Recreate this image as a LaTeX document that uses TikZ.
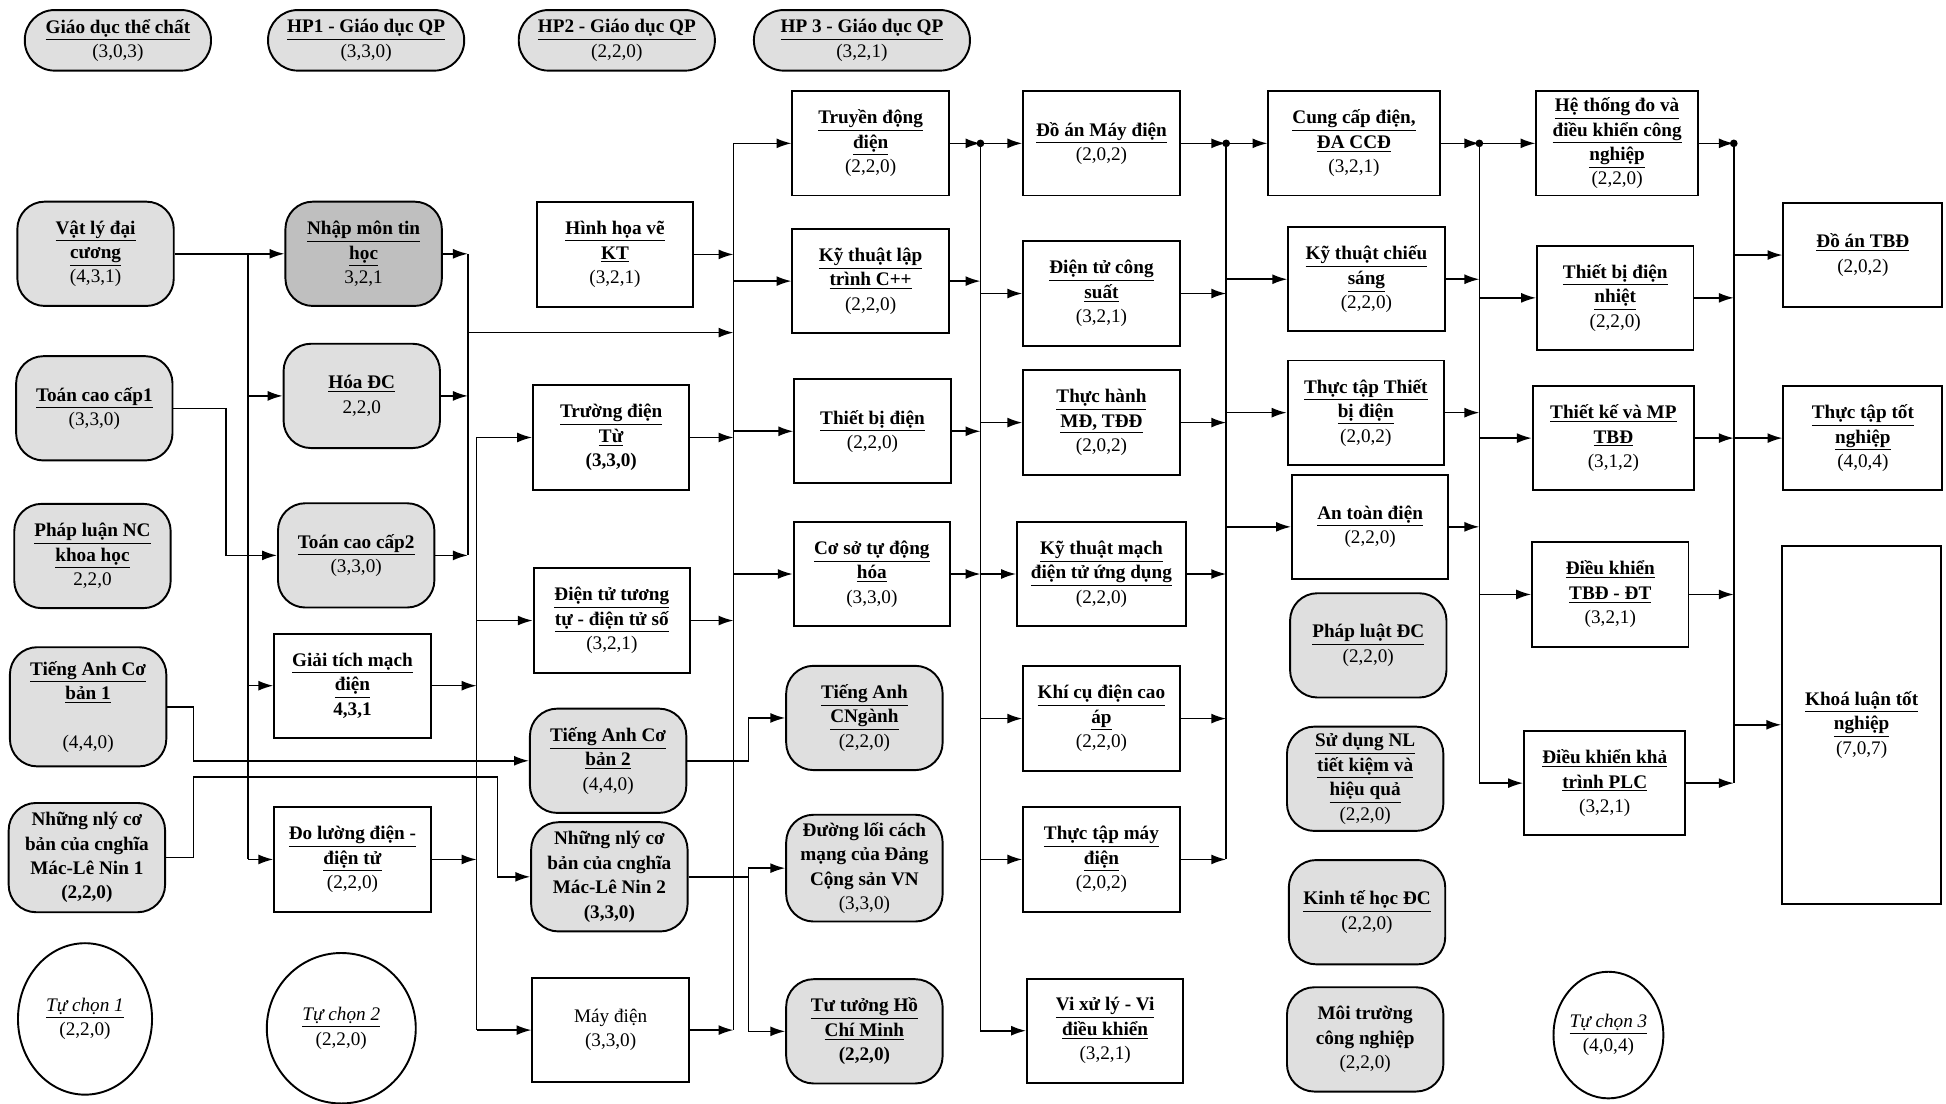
\documentclass[tikz,border=0pt]{standalone}
\usepackage{fontspec}
\setmainfont{Liberation Serif}
\usetikzlibrary{arrows.meta,shapes.geometric}
\newcommand{\tenmon}[1]{\underline{\textbf{#1}}}

\begin{document}
\begin{tikzpicture}[x=0.025cm, y=-0.025cm, line width=0.9pt,
    >={Latex[length=3mm,width=2mm]},
    font=\fontsize{11}{14}\selectfont,
    box/.style={draw, line width=1.1pt, align=center, minimum width=3.15cm, minimum height=2.1cm, inner sep=1pt},
    core/.style={box, rounded corners=0.55cm, fill=gray!25},
    pill/.style={core, rounded corners=0.6cm, minimum height=1.22cm},
    elect/.style={draw, ellipse, line width=1.1pt, align=center, inner sep=0pt}]

    \useasboundingbox (0,0) rectangle (1568,889);

    \node[pill, minimum width=3.75cm] (t1) at (95,32.5) {\tenmon{Giáo dục thể chất}\\(3,0,3)};
    \node[pill, minimum width=3.95cm] (t2) at (295,32.5) {\tenmon{HP1 - Giáo dục QP}\\(3,3,0)};
    \node[pill, minimum width=3.95cm] (t3) at (497,32.5) {\tenmon{HP2 - Giáo dục QP}\\(2,2,0)};
    \node[pill, minimum width=4.35cm] (t4) at (694.5,32.5) {\tenmon{HP 3 - Giáo dục QP}\\(3,2,1)};

    \node[core] (a1) at (77,204.5) {\tenmon{Vật lý đại}\\\tenmon{cương}\\(4,3,1)};
    \node[core] (a2) at (76,329) {\tenmon{Toán cao cấp1}\\(3,3,0)};
    \node[core] (a3) at (74.5,448) {\tenmon{Pháp luận NC}\\\tenmon{khoa học}\\2,2,0};
    \node[core, minimum height=2.4cm] (a4) at (71,569.5) {\tenmon{Tiếng Anh Cơ}\\\tenmon{bản 1}\\[14pt](4,4,0)};
    \node[core, minimum height=2.2cm] (a5) at (70,691) {\textbf{Những nlý cơ}\\\textbf{bản của cnghĩa}\\\textbf{Mác-Lê Nin 1}\\\textbf{(2,2,0)}};
    \node[elect, minimum width=2.7cm, minimum height=3.05cm] (a6) at (68.5,821) {\underline{\textit{Tự chọn 1}}\\(2,2,0)};

    \node[core, fill=gray!50] (b1) at (293,204.5) {\tenmon{Nhập môn tin}\\\tenmon{học}\\3,2,1};
    \node[core] (b2) at (291.5,319) {\tenmon{Hóa ĐC}\\2,2,0};
    \node[core] (b3) at (287,447.5) {\tenmon{Toán cao cấp2}\\(3,3,0)};
    \node[box] (b4) at (284,552.5) {\tenmon{Giải tích mạch}\\\tenmon{điện}\\\textbf{4,3,1}};
    \node[box] (b5) at (284,692.5) {\tenmon{Đo lường điện -}\\\tenmon{điện tử}\\(2,2,0)};
    \node[elect, minimum width=3cm, minimum height=3.03cm] (b6) at (275,828.5) {\underline{\textit{Tự chọn 2}}\\(2,2,0)};

    \node[box] (c1) at (495.5,205) {\tenmon{Hình họa vẽ}\\\tenmon{KT}\\(3,2,1)};
    \node[box] (c2) at (492.5,352.5) {\tenmon{Trường điện}\\\tenmon{Từ}\\\textbf{(3,3,0)}};
    \node[box] (c3) at (493,500) {\tenmon{Điện tử tương}\\\tenmon{tự - điện tử số}\\(3,2,1)};
    \node[core] (c4) at (490,613) {\tenmon{Tiếng Anh Cơ}\\\tenmon{bản 2}\\(4,4,0)};
    \node[core, minimum height=2.2cm] (c5) at (491,706.5) {\textbf{Những nlý cơ}\\\textbf{bản của cnghĩa}\\\textbf{Mác-Lê Nin 2}\\\textbf{(3,3,0)}};
    \node[box] (c6) at (492,830) {Máy điện\\(3,3,0)};

    \node[box] (d1) at (701.5,115.5) {\tenmon{Truyền động}\\\tenmon{điện}\\(2,2,0)};
    \node[box] (d2) at (701.5,226.5) {\tenmon{Kỹ thuật lập}\\\tenmon{trình C++}\\(2,2,0)};
    \node[box] (d3) at (703,347.5) {\tenmon{Thiết bị điện}\\(2,2,0)};
    \node[box] (d4) at (702.5,462.5) {\tenmon{Cơ sở tự động}\\\tenmon{hóa}\\(3,3,0)};
    \node[core] (d5) at (696.5,578.5) {\tenmon{Tiếng Anh}\\\tenmon{CNgành}\\(2,2,0)};
    \node[core, minimum height=2.15cm] (d6) at (696.5,699.5) {\textbf{Đường lối cách}\\\textbf{mạng của Đảng}\\\textbf{Cộng sản VN}\\(3,3,0)};
    \node[core] (d7) at (696.5,831) {\tenmon{Tư tưởng Hồ}\\\tenmon{Chí Minh}\\\textbf{(2,2,0)}};

    \node[box] (e1) at (887.5,115.5) {\tenmon{Đồ án Máy điện}\\(2,0,2)};
    \node[box] (e2) at (887.5,236.5) {\tenmon{Điện tử công}\\\tenmon{suất}\\(3,2,1)};
    \node[box] (e3) at (887.5,340.5) {\tenmon{Thực hành}\\\tenmon{MĐ, TĐĐ}\\(2,0,2)};
    \node[box, minimum width=3.4cm] (e4) at (887.5,462.5) {\tenmon{Kỹ thuật mạch}\\\tenmon{điện tử ứng dụng}\\(2,2,0)};
    \node[box] (e5) at (887.5,579) {\tenmon{Khí cụ điện cao}\\\tenmon{áp}\\(2,2,0)};
    \node[box] (e6) at (887.5,692.5) {\tenmon{Thực tập máy}\\\tenmon{điện}\\(2,0,2)};
    \node[box] (e7) at (890.5,830.5) {\tenmon{Vi xử lý - Vi}\\\tenmon{điều khiển}\\(3,2,1)};

    \node[box, minimum width=3.45cm] (f1) at (1091,115.5) {\tenmon{Cung cấp điện,}\\\tenmon{ĐA CCĐ}\\(3,2,1)};
    \node[box] (f2) at (1101,225) {\tenmon{Kỹ thuật chiếu}\\\tenmon{sáng}\\(2,2,0)};
    \node[box] (f3) at (1100.5,332.5) {\tenmon{Thực tập Thiết}\\\tenmon{bị điện}\\(2,0,2)};
    \node[box] (f4) at (1104,424.5) {\tenmon{An toàn điện}\\(2,2,0)};
    \node[core] (f5) at (1102.5,520) {\tenmon{Pháp luật ĐC}\\(2,2,0)};
    \node[core] (f6) at (1100,627.5) {\tenmon{Sử dụng NL}\\\tenmon{tiết kiệm và}\\\tenmon{hiệu quả}\\(2,2,0)};
    \node[core] (f7) at (1101.5,735) {\tenmon{Kinh tế học ĐC}\\(2,2,0)};
    \node[core] (f8) at (1100,837.5) {\textbf{Môi trường}\\\textbf{công nghiệp}\\(2,2,0)};

    \node[box, minimum width=3.25cm] (g1) at (1303,115.5) {\tenmon{Hệ thống đo và}\\\tenmon{điều khiển công}\\\tenmon{nghiệp}\\(2,2,0)};
    \node[box] (g2) at (1301.5,240) {\tenmon{Thiết bị điện}\\\tenmon{nhiệt}\\(2,2,0)};
    \node[box, minimum width=3.25cm] (g3) at (1300,353) {\tenmon{Thiết kế và MP}\\\tenmon{TBĐ}\\(3,1,2)};
    \node[box] (g4) at (1297.5,479) {\tenmon{Điều khiển}\\\tenmon{TBĐ - ĐT}\\(3,2,1)};
    \node[box, minimum width=3.25cm] (g5) at (1293,631) {\tenmon{Điều khiển khả}\\\tenmon{trình PLC}\\(3,2,1)};
    \node[elect, minimum width=2.2cm, minimum height=2.55cm] (g6) at (1296,834) {\underline{\textit{Tự chọn 3}}\\(4,0,4)};

    \node[box, minimum width=3.2cm] (h1) at (1501,205.5) {\tenmon{Đồ án TBĐ}\\(2,0,2)};
    \node[box, minimum width=3.2cm] (h2) at (1501,353) {\tenmon{Thực tập tốt}\\\tenmon{nghiệp}\\(4,0,4)};
    \node[box, minimum width=3.2cm, minimum height=7.2cm] (h3) at (1500,584) {\tenmon{Khoá luận tốt}\\\tenmon{nghiệp}\\(7,0,7)};

    \coordinate (ab) at (200,204.5);
    \coordinate (bc1) at (377,204.5);
    \coordinate (m) at (377,268);
    \coordinate (bc2) at (384,352.5);
    \coordinate (cd) at (591,115.5);
    \coordinate (cdm) at (603,699.5);
    \coordinate (de) at (790,115.5);
    \coordinate (ef) at (988,115.5);
    \coordinate (fg) at (1192,115.5);
    \coordinate (gh) at (1397,115.5);

    \draw [->] (a1.east) -- (b1.west);
    \draw (ab) -- (ab |- b5.west);
    \draw [->] (ab |- b2.west) -- (b2.west);
    \draw [->] (ab |- b4.west) -- (b4.west);
    \draw [->] (ab |- b5.west) -- (b5.west);
    \draw [->] (a2.east) -- (182,329) |- (b3.west);
    \draw [->] (a4.east) -- (156,569.5) |- (c4.west);
    \draw [->] (a5.east) -- (156,691) -- (156,626) -- (401,626) |- (c5.west);

    \draw (bc1) -- (bc1 |- b3.east);
    \draw [->] (b1.east) -- (bc1);
    \draw [->] (b2.east) -- (bc1 |- b2.east);
    \draw [->] (b3.east) -- (bc1 |- b3.east);
    \draw [->] (m) -- (cd |- m);

    \draw (bc2) -- (bc2 |- c6.west);
    \draw [->] (b4.east) -- (bc2 |- b4.east);
    \draw [->] (b5.east) -- (bc2 |- b5.east);
    \draw [->] (bc2) -- (c2.west);
    \draw [->] (bc2 |- c3.west) -- (c3.west);
    \draw [->] (bc2 |- c6.west) -- (c6.west);

    \draw (cd) -- (cd |- c6.east);
    \draw [->] (c1.east) -- (cd |- c1.east);
    \draw [->] (c2.east) -- (cd |- c2.east);
    \draw [->] (c3.east) -- (cd |- c3.east);
    \draw [->] (c6.east) -- (cd |- c6.east);
    \draw [->] (cd) -- (d1.west);
    \draw [->] (cd |- d2.west) -- (d2.west);
    \draw [->] (cd |- d3.west) -- (d3.west);
    \draw [->] (cd |- d4.west) -- (d4.west);

    \draw [->] (c4.east) -- (603,613) |- (d5.west);
    \draw (cdm) -- (cdm |- d7.west);
    \draw (c5.east) -- (cdm |- c5.east);
    \draw [->] (cdm) -- (d6.west);
    \draw [->] (cdm |- d7.west) -- (d7.west);

    \draw (de) -- (de |- e7.west);
    \fill (de) circle (2.2pt);
    \draw [->] (d1.east) -- (de);
    \draw [->] (d2.east) -- (de |- d2.east);
    \draw [->] (d3.east) -- (de |- d3.east);
    \draw [->] (d4.east) -- (de |- d4.east);
    \draw [->] (de) -- (e1.west);
    \draw [->] (de |- e2.west) -- (e2.west);
    \draw [->] (de |- e3.west) -- (e3.west);
    \draw [->] (de |- e4.west) -- (e4.west);
    \draw [->] (de |- e5.west) -- (e5.west);
    \draw [->] (de |- e6.west) -- (e6.west);
    \draw [->] (de |- e7.west) -- (e7.west);

    \draw (ef) -- (ef |- e6.east);
    \fill (ef) circle (2.2pt);
    \draw [->] (e1.east) -- (ef);
    \draw [->] (e2.east) -- (ef |- e2.east);
    \draw [->] (e3.east) -- (ef |- e3.east);
    \draw [->] (e4.east) -- (ef |- e4.east);
    \draw [->] (e5.east) -- (ef |- e5.east);
    \draw [->] (e6.east) -- (ef |- e6.east);
    \draw [->] (ef) -- (f1.west);
    \draw [->] (ef |- f2.west) -- (f2.west);
    \draw [->] (ef |- f3.west) -- (f3.west);
    \draw [->] (ef |- f4.west) -- (f4.west);

    \draw (fg) -- (fg |- g5.west);
    \fill (fg) circle (2.2pt);
    \draw [->] (f1.east) -- (fg);
    \draw [->] (f2.east) -- (fg |- f2.east);
    \draw [->] (f3.east) -- (fg |- f3.east);
    \draw [->] (f4.east) -- (fg |- f4.east);
    \draw [->] (fg) -- (g1.west);
    \draw [->] (fg |- g2.west) -- (g2.west);
    \draw [->] (fg |- g3.west) -- (g3.west);
    \draw [->] (fg |- g4.west) -- (g4.west);
    \draw [->] (fg |- g5.west) -- (g5.west);

    \draw (gh) -- (gh |- g5.east);
    \fill (gh) circle (2.2pt);
    \draw [->] (g1.east) -- (gh);
    \draw [->] (g2.east) -- (gh |- g2.east);
    \draw [->] (g3.east) -- (gh |- g3.east);
    \draw [->] (g4.east) -- (gh |- g4.east);
    \draw [->] (g5.east) -- (gh |- g5.east);
    \draw [->] (gh |- h1.west) -- (h1.west);
    \draw [->] (gh |- h2.west) -- (h2.west);
    \draw [->] (gh |- h3.west) -- (h3.west);

\end{tikzpicture}
\end{document}
